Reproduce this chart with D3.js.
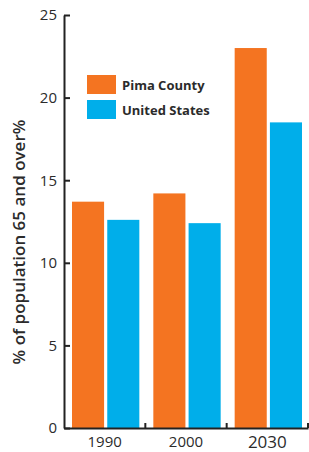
<!DOCTYPE html>
<html>
<head>
<meta charset="utf-8">
<script src="https://cdn.jsdelivr.net/npm/d3@7"></script>
<style>
  body { margin: 0; background: #fff; }
  text { font-family: "Open Sans", sans-serif; fill: #2b2b2b; }
</style>
</head>
<body>
<svg id="canvas"></svg>
<script>
let years = ['1990', '2000', '2030']
let seriesNames = ['Pima County', 'United States']
let pimaValues = [13.7, 14.2, 23.0]
let usValues = [12.6, 12.4, 18.5]
let yTicks = [0, 5, 10, 15, 20, 25]
let colors = ['#f47421', '#00aeea']

const width = 309
const height = 452
const margin = {top: 15, right: 1, bottom: 24, left: 64}

let canvas = d3.select('#canvas')
canvas.attr('width', width)
canvas.attr('height', height)

let rows = years.map((y, i) => ({year: y, values: [pimaValues[i], usValues[i]]}))

let xScale = d3.scaleBand()
    .domain(years)
    .range([margin.left, width - margin.right])

let inner = d3.scaleBand()
    .domain(seriesNames)
    .range([8, xScale.bandwidth() - 6])
    .paddingInner(0.09)

let yScale = d3.scaleLinear()
    .domain([0, 25])
    .range([height - margin.bottom, margin.top])

// bars
let groups = canvas.selectAll('g.year')
    .data(rows)
    .enter()
    .append('g')
    .attr('class', 'year')
    .attr('transform', d => 'translate(' + xScale(d.year) + ',0)')

groups.selectAll('rect')
    .data(d => d.values.map((v, i) => ({name: seriesNames[i], value: v, i: i})))
    .enter()
    .append('rect')
    .attr('x', d => inner(d.name))
    .attr('width', inner.bandwidth())
    .attr('y', d => yScale(d.value))
    .attr('height', d => yScale(0) - yScale(d.value))
    .attr('fill', d => colors[d.i])

// y axis, ticks pointing inward
let yAxis = d3.axisLeft(yScale)
    .tickValues(yTicks)
    .tickSizeInner(-6)
    .tickSizeOuter(0)
    .tickPadding(7)

let yG = canvas.append('g')
    .attr('transform', 'translate(' + margin.left + ',0)')
    .call(yAxis)
yG.select('.domain').attr('stroke', '#222').attr('stroke-width', 2)
yG.selectAll('.tick line').attr('stroke', '#222').attr('stroke-width', 2)
yG.selectAll('.tick text').style('font-size', '15px').attr('fill', '#2b2b2b')

// x axis labels (the last one is set a little larger in the original)
let xAxis = d3.axisBottom(xScale).tickSize(0).tickPadding(8)
let xG = canvas.append('g')
    .attr('transform', 'translate(0,' + yScale(0) + ')')
    .call(xAxis)
xG.select('.domain').attr('stroke', '#222').attr('stroke-width', 2)
xG.selectAll('.tick text')
    .style('font-size', d => d === '2030' ? '17px' : '15px')
    .attr('fill', '#2b2b2b')

// small ticks at band boundaries
xG.selectAll('line.sep')
    .data(years)
    .enter()
    .append('line')
    .attr('class', 'sep')
    .attr('x1', d => xScale(d) + xScale.bandwidth())
    .attr('x2', d => xScale(d) + xScale.bandwidth())
    .attr('y1', 0)
    .attr('y2', -5)
    .attr('stroke', '#222')
    .attr('stroke-width', 2)

// y label
canvas.append('text')
    .attr('transform', 'translate(25,242) rotate(-90)')
    .attr('text-anchor', 'middle')
    .style('font-size', '17px')
    .style('font-weight', '600')
    .text('% of population 65 and over%')

// legend
let legend = canvas.selectAll('g.legend')
    .data(seriesNames)
    .enter()
    .append('g')
    .attr('class', 'legend')
    .attr('transform', (d, i) => 'translate(87,' + (75 + i * 25) + ')')

legend.append('rect')
    .attr('width', 29)
    .attr('height', 19)
    .attr('fill', (d, i) => colors[i])

legend.append('text')
    .attr('x', 35)
    .attr('y', 14.5)
    .style('font-size', '13px')
    .style('font-weight', 'bold')
    .text(d => d)
</script>
</body>
</html>
